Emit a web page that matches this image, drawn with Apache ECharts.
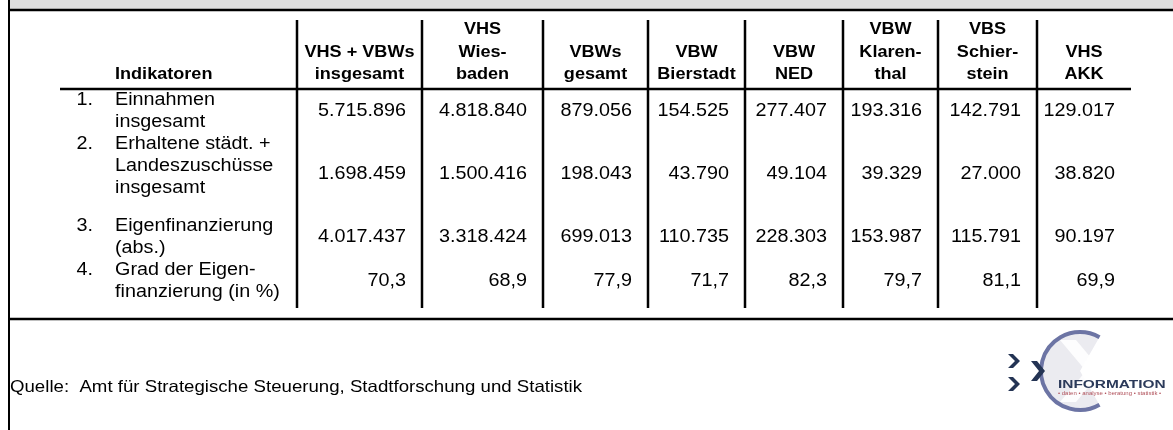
<!DOCTYPE html>
<html>
<head>
<meta charset="utf-8">
<script src="https://cdn.jsdelivr.net/npm/echarts@6/dist/echarts.min.js"></script>
<style>
  html, body { margin: 0; padding: 0; background: #fff; }
  #main { width: 1173px; height: 430px; }
</style>
</head>
<body>
<div id="main"></div>
<script>
// table content
const columns = ['VHS + VBWs\ninsgesamt', 'VHS\nWies-\nbaden', 'VBWs\ngesamt', 'VBW\nBierstadt',
  'VBW\nNED', 'VBW\nKlaren-\nthal', 'VBS\nSchier-\nstein', 'VHS\nAKK']
const indicators = ['Einnahmen\ninsgesamt', 'Erhaltene städt. +\nLandeszuschüsse\ninsgesamt',
  'Eigenfinanzierung\n(abs.)', 'Grad der Eigen-\nfinanzierung (in %)']
const einnahmen = [5715896, 4818840, 879056, 154525, 277407, 193316, 142791, 129017]
const zuschuesse = [1698459, 1500416, 198043, 43790, 49104, 39329, 27000, 38820]
const eigenAbs = [4017437, 3318424, 699013, 110735, 228303, 153987, 115791, 90197]
const eigenGrad = [70.3, 68.9, 77.9, 71.7, 82.3, 79.7, 81.1, 69.9]
const source = 'Quelle:  Amt für Strategische Steuerung, Stadtforschung und Statistik'

const rows = [einnahmen, zuschuesse, eigenAbs, eigenGrad]
const decimals = [0, 0, 0, 1]

// layout in pixels (axes run 0..W / 0..H)
const W = 1173, H = 430
const colEdges = [297, 422, 543, 648, 745, 843, 938, 1037, 1131]
const headTop = 20, headBottom = 86, headLine = 89
const rowHeights = [44, 82, 44, 44]
const lineH = 22
const tableBottom = 308, footLine = 319
const labelX = 115, numX = 93, cellPad = 16
const stretch = 1.13
const FONT = "'Liberation Sans', Arial, Helvetica, sans-serif"

const rowTops = []
rowHeights.reduce((y, h) => { rowTops.push(y); return y + h }, headLine)

function fmt (v, dec) {
  if (dec) return v.toFixed(dec).replace('.', ',')
  return String(v).replace(/\B(?=(\d{3})+(?!\d))/g, '.')
}

function textEl (pt, text, font, align, va, lh) {
  return {
    type: 'text', x: pt[0], y: pt[1], scaleX: stretch, silent: true,
    style: {
      text, font, fill: '#000',
      align, verticalAlign: va, textAlign: align, textVerticalAlign: va,
      lineHeight: lh
    }
  }
}

// rules of the table
const rules = []
rules.push({ x1: 8, y1: 10, x2: W, y2: 10, w: 2.5 })
rules.push({ x1: 9, y1: 0, x2: 9, y2: H, w: 2 })
rules.push({ x1: 60, y1: headLine, x2: colEdges[colEdges.length - 1], y2: headLine, w: 2.5 })
colEdges.slice(0, -1).forEach(x => rules.push({ x1: x, y1: headTop, x2: x, y2: tableBottom, w: 2.5 }))
rules.push({ x1: 8, y1: footLine, x2: W, y2: footLine, w: 2.5 })

const cells = []
rows.forEach((vals, r) => vals.forEach((v, c) => cells.push({ c, r, text: fmt(v, decimals[r]) })))

const chart = echarts.init(document.getElementById('main'))

const option = {
  animation: false,
  grid: { left: 0, right: 0, top: 0, bottom: 0 },
  xAxis: { type: 'value', min: 0, max: W, show: false },
  yAxis: { type: 'value', min: 0, max: H, inverse: true, show: false },
  series: [
    {
      // gray band above the table
      type: 'custom', name: 'band', silent: true,
      data: [[0, 0]],
      renderItem (params, api) {
        const a = api.coord([10, 0]), b = api.coord([W, 9])
        return { type: 'rect', shape: { x: a[0], y: a[1], width: b[0] - a[0], height: b[1] - a[1] }, style: { fill: '#dfdfdf' } }
      }
    },
    {
      type: 'custom', name: 'rules', silent: true,
      data: rules.map(() => [0, 0]),
      renderItem (params, api) {
        const l = rules[params.dataIndex]
        const a = api.coord([l.x1, l.y1]), b = api.coord([l.x2, l.y2])
        return { type: 'line', shape: { x1: a[0], y1: a[1], x2: b[0], y2: b[1] }, style: { stroke: '#000', lineWidth: l.w } }
      }
    },
    {
      type: 'custom', name: 'header', silent: true,
      data: columns.map((c, i) => [i, 0]).concat([[-1, 0]]),
      renderItem (params, api) {
        const i = params.dataIndex
        if (i === columns.length) {
          return textEl(api.coord([labelX, headBottom]), 'Indikatoren', 'bold 16px ' + FONT, 'left', 'bottom', 22.5)
        }
        const cx = (colEdges[i] + colEdges[i + 1]) / 2
        return textEl(api.coord([cx, headBottom]), columns[i], 'bold 16px ' + FONT, 'center', 'bottom', 22.5)
      }
    },
    {
      type: 'custom', name: 'indicators', silent: true,
      data: indicators.map((t, i) => [0, i]),
      renderItem (params, api) {
        const i = params.dataIndex
        const y = rowTops[i]
        return {
          type: 'group',
          children: [
            textEl(api.coord([numX, y]), (i + 1) + '.', '17.5px ' + FONT, 'right', 'top', lineH),
            textEl(api.coord([labelX, y]), indicators[i], '17.5px ' + FONT, 'left', 'top', lineH)
          ]
        }
      }
    },
    {
      type: 'custom', name: 'values', silent: true,
      data: cells.map(d => [d.c, d.r]),
      renderItem (params, api) {
        const d = cells[params.dataIndex]
        const x = colEdges[d.c + 1] - cellPad
        const y = rowTops[d.r] + rowHeights[d.r] / 2
        return textEl(api.coord([x, y]), d.text, '17.5px ' + FONT, 'right', 'middle', lineH)
      }
    },
    {
      type: 'custom', name: 'source', silent: true,
      data: [[0, 0]],
      renderItem (params, api) {
        return textEl(api.coord([10, 387]), source, '16.5px ' + FONT, 'left', 'middle', 20)
      }
    }
  ],
  graphic: [
    // logo
    {
      type: 'group', silent: true,
      children: [
        { type: 'sector', shape: { cx: 1080, cy: 371, r0: 0, r: 38, startAngle: Math.PI / 3, endAngle: Math.PI * 5 / 3, clockwise: true }, style: { fill: '#ebebf0' } },
        { type: 'polygon', shape: { points: [[1060, 340], [1076, 340], [1102, 371], [1076, 402], [1060, 402], [1086, 371]] }, style: { fill: '#ffffff', opacity: 0.9 } },
        { type: 'arc', shape: { cx: 1080, cy: 371, r: 39, startAngle: Math.PI / 3, endAngle: Math.PI * 5 / 3, clockwise: true }, style: { stroke: '#6c74a4', lineWidth: 4, fill: null } },
        { type: 'polygon', shape: { points: [[1008, 354], [1013, 354], [1020, 361], [1013, 368], [1008, 368], [1015, 361]] }, style: { fill: '#243454' } },
        { type: 'polygon', shape: { points: [[1008, 377], [1013, 377], [1020, 384], [1013, 391], [1008, 391], [1015, 384]] }, style: { fill: '#243454' } },
        { type: 'polygon', shape: { points: [[1031, 361], [1037, 361], [1045, 371], [1037, 381], [1031, 381], [1039, 371]] }, style: { fill: '#243454' } },
        { type: 'text', x: 1058, y: 385, scaleX: 1.47, style: { text: 'INFORMATION', font: 'bold 10.5px ' + FONT, fill: '#2b3a5a', align: 'left', verticalAlign: 'middle', textAlign: 'left', textVerticalAlign: 'middle' } },
        { type: 'text', x: 1058, y: 394, scaleX: 1.2, style: { text: '• daten • analyse • beratung • statistik •', font: '5px ' + FONT, fill: '#b0505a', align: 'left', verticalAlign: 'middle', textAlign: 'left', textVerticalAlign: 'middle' } }
      ]
    }
  ]
}
chart.setOption(option)
</script>
</body>
</html>
